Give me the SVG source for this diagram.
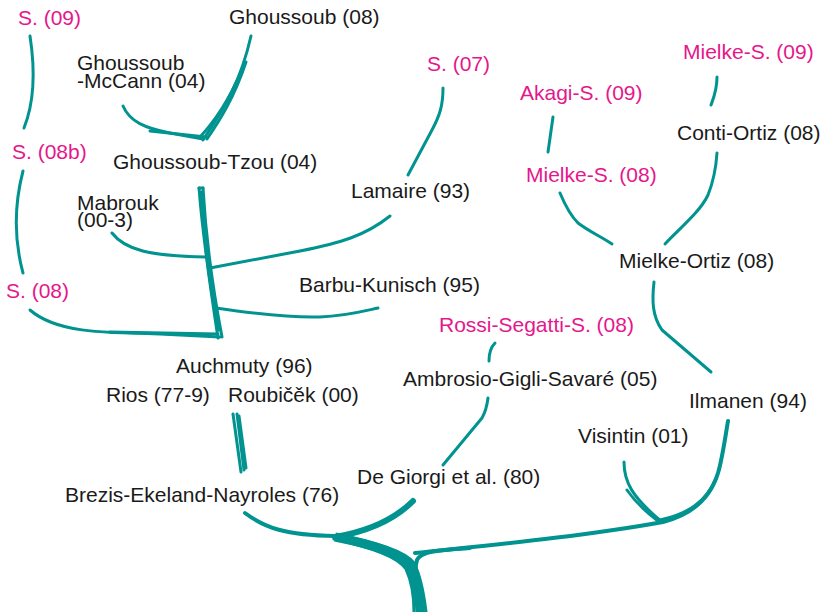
<svg xmlns="http://www.w3.org/2000/svg" width="832" height="612" viewBox="0 0 832 612">
  <style>
    text { font-family: "Liberation Sans", Arial, sans-serif; font-size: 21px; fill: #1a1a1a; }
    text.mag { fill: #e5178b; }
    .c path { fill: none; stroke: #00938f; stroke-width: 3; stroke-linecap: round; stroke-linejoin: round; }
    .c path.t4 { stroke-width: 4; }
    .c path.t6 { stroke-width: 6; }
    .c path.t9 { stroke-width: 9; stroke-linecap: butt; }
  </style>
  <rect width="832" height="612" fill="#ffffff"/>

  <!-- connectors -->
  <g id="connectors" class="c">
    <!-- left chain -->
    <path d="M30,36 C34,62 36,98 24,128"/>
    <path d="M23,171 C16,198 12,232 23,273"/>
    <path d="M30,310 C55,332 100,333 160,334 L220,337"/>
    <path d="M110,332 L218,334"/>
    <!-- Ghoussoub group -->
    <path d="M123,106 C130,122 145,128 170,133 L203,139"/>
    <path d="M150,131 L206,137"/>
    <path d="M251,36 C241,80 226,106 203,140"/>
    <path d="M246,62 C234,98 220,120 207,139"/>
    <path d="M241,72 C228,102 214,122 200,137"/>
    <!-- Ghoussoub-Tzou trunk -->
    <path d="M199,188 C203,240 211,292 218,338"/>
    <path d="M203,188 C206,240 213,290 222,337"/>
    <path d="M199,188 L203,188"/>
    <path d="M201,192 C204,245 212,300 219,330"/>
    <!-- Mabrouk, Lamaire, Barbu-Kunisch -->
    <path d="M112,233 C125,250 150,256 205,257"/>
    <path d="M390,216 C365,236 340,243 300,251 L210,268"/>
    <path d="M216,308 C250,313 290,318 320,317 C345,316 360,312 378,308"/>
    <path d="M443,88 C443,105 440,115 432,130 L408,175"/>
    <!-- right group -->
    <path d="M553,117 L548,152"/>
    <path d="M717,77 C717,90 714,97 711,105"/>
    <path d="M560,193 C565,205 570,215 578,223 C590,232 600,236 612,244"/>
    <path d="M717,153 C716,168 714,180 708,195 C700,212 680,228 665,244"/>
    <path d="M654,282 C652,300 652,316 662,330 L711,372"/>
    <!-- Rossi-Segatti-S., Ambrosio-Gigli-Savare -->
    <path d="M495,343 C490,348 489,354 489,361"/>
    <path d="M488,398 C487,406 486,411 482,418 L443,465"/>
    <!-- Roubicek to Brezis -->
    <path d="M233,414 L241,472"/>
    <path d="M237,414 L244,470"/>
    <path d="M239,416 L246,468"/>
    <!-- Visintin, Ilmanen -->
    <path d="M624,462 C624,482 632,497 662,522"/>
    <path d="M627,490 C636,503 646,512 658,521"/>
    <path d="M728,421 C724,445 722,460 718,473 C710,500 690,515 663,522 C580,537 480,546 415,553" class="t4"/>
    <path d="M716,478 C706,502 688,514 660,520"/>
    <!-- base trunk -->
    <path d="M245,513 C265,528 285,535 335,536" class="t4"/>
    <path d="M413,501 C395,519 370,531 335,537" class="t6"/>
    <path d="M335,537 C375,545 400,553 410,566 C417,580 419,596 420,612" class="t9"/>
    <path d="M338,535 C378,543 404,551 414,563 C421,577 424,595 426,612"/>
    <path d="M334,539 C372,548 397,556 406,569 C412,582 414,598 414,612"/>
    <path d="M470,548 C440,550 421,551 417,560 C413,572 419,592 423,612" class="t4"/>
  </g>

  <!-- nodes -->
  <g id="n-s09"><text class="mag" x="18" y="25">S. (09)</text></g>
  <g id="n-ghoussoub08"><text x="229" y="24">Ghoussoub (08)</text></g>
  <g id="n-ghoussoub-mccann"><text x="77" y="70">Ghoussoub</text><text x="77" y="88">-McCann (04)</text></g>
  <g id="n-s07"><text class="mag" x="427" y="71">S. (07)</text></g>
  <g id="n-mielke-s09"><text class="mag" x="683" y="59">Mielke-S. (09)</text></g>
  <g id="n-akagi-s09"><text class="mag" x="520" y="100">Akagi-S. (09)</text></g>
  <g id="n-conti-ortiz"><text x="677" y="140">Conti-Ortiz (08)</text></g>
  <g id="n-s08b"><text class="mag" x="12" y="159">S. (08b)</text></g>
  <g id="n-ghoussoub-tzou"><text x="113" y="169">Ghoussoub-Tzou (04)</text></g>
  <g id="n-mielke-s08"><text class="mag" x="526" y="182">Mielke-S. (08)</text></g>
  <g id="n-lamaire"><text x="351" y="198">Lamaire (93)</text></g>
  <g id="n-mabrouk"><text x="77" y="210">Mabrouk</text><text x="77" y="227">(00-3)</text></g>
  <g id="n-mielke-ortiz"><text x="619" y="268">Mielke-Ortiz (08)</text></g>
  <g id="n-s08"><text class="mag" x="6" y="298">S. (08)</text></g>
  <g id="n-barbu-kunisch"><text x="299" y="292">Barbu-Kunisch (95)</text></g>
  <g id="n-rossi-segatti-s"><text class="mag" x="439" y="332">Rossi-Segatti-S. (08)</text></g>
  <g id="n-auchmuty"><text x="176" y="373">Auchmuty (96)</text></g>
  <g id="n-ambrosio"><text x="403" y="386">Ambrosio-Gigli-Savaré (05)</text></g>
  <g id="n-rios"><text x="106" y="402">Rios (77-9)</text></g>
  <g id="n-roubicek"><text x="228" y="402">Roubičěk (00)</text></g>
  <g id="n-ilmanen"><text x="689" y="408">Ilmanen (94)</text></g>
  <g id="n-visintin"><text x="578" y="443">Visintin (01)</text></g>
  <g id="n-degiorgi"><text x="357" y="484">De Giorgi et al. (80)</text></g>
  <g id="n-brezis"><text x="65" y="502">Brezis-Ekeland-Nayroles (76)</text></g>
</svg>
